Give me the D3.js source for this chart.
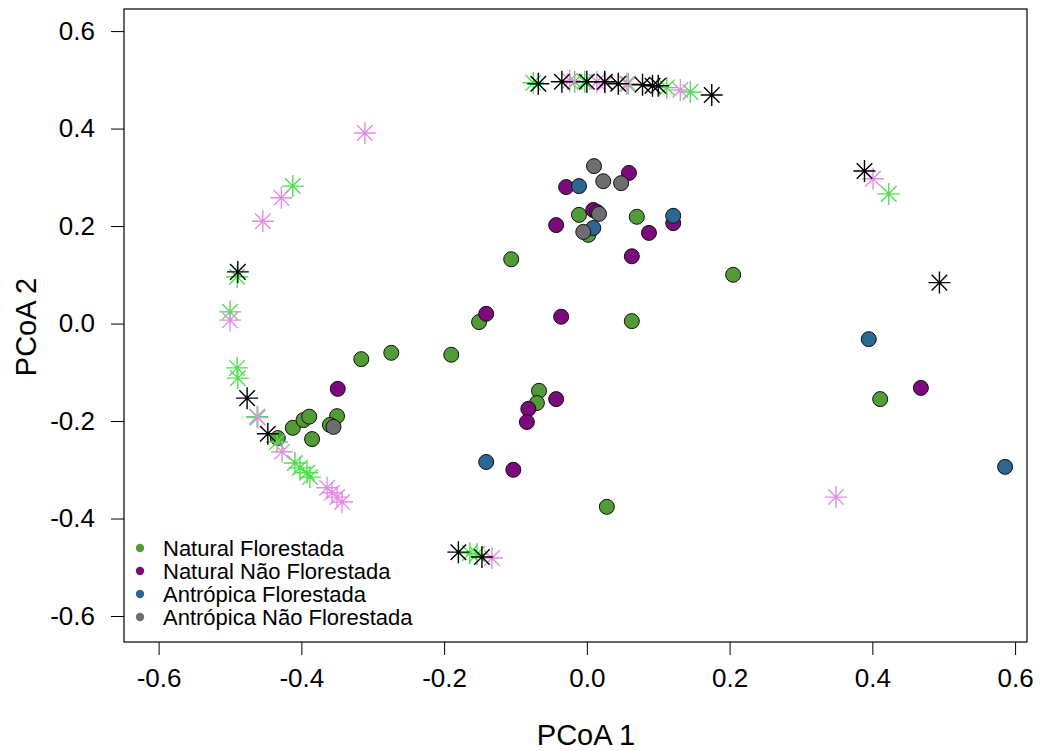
<!DOCTYPE html>
<html>
<head>
<meta charset="utf-8">
<script src="https://cdn.jsdelivr.net/npm/d3@7"></script>
<style>
  body { margin: 0; background: #fff; }
  text { font-family: "Liberation Sans", Arial, sans-serif; fill: #000; }
</style>
</head>
<body>
<svg id="pcoa" width="1044" height="751"></svg>
<script>
// site scores (PCoA 1, PCoA 2) per group
var naturalFlorestada = [
  [-0.316,-0.073], [-0.274,-0.060], [-0.190,-0.064], [-0.433,-0.235], [-0.412,-0.214],
  [-0.397,-0.198], [-0.389,-0.191], [-0.385,-0.237], [-0.350,-0.190], [-0.360,-0.208],
  [-0.106,0.132], [-0.151,0.003], [0.063,0.005], [-0.067,-0.138], [-0.070,-0.163],
  [0.028,-0.376], [-0.011,0.223], [0.070,0.219], [0.002,0.182], [0.205,0.100], [0.411,-0.155]
];
var naturalNaoFlorestada = [
  [-0.349,-0.134], [-0.141,0.020], [-0.036,0.014], [-0.043,-0.155], [-0.082,-0.175],
  [-0.084,-0.202], [-0.103,-0.300], [0.059,0.309], [-0.029,0.280], [0.009,0.233],
  [0.014,0.229], [0.121,0.206], [-0.043,0.202], [0.087,0.186], [0.063,0.138], [0.468,-0.132]
];
var antropicaFlorestada = [
  [-0.141,-0.284], [-0.011,0.282], [0.121,0.221], [0.009,0.196], [0.395,-0.032], [0.586,-0.294]
];
var antropicaNaoFlorestada = [
  [-0.355,-0.212], [0.010,0.323], [0.023,0.292], [0.048,0.288], [0.017,0.225], [-0.005,0.188]
];

// species scores (asterisks)
var starsGreen = [
  [-0.075,0.494], [-0.017,0.496], [-0.003,0.496], [0.058,0.492], [0.112,0.484], [0.145,0.475],
  [-0.412,0.282], [-0.490,0.096], [-0.500,0.024], [-0.490,-0.091], [-0.489,-0.112],
  [-0.462,-0.191], [-0.434,-0.243], [-0.409,-0.286], [-0.402,-0.296], [-0.392,-0.306],
  [-0.388,-0.315], [0.423,0.266], [-0.164,-0.471], [-0.154,-0.473]
];
var starsViolet = [
  [-0.024,0.498], [0.014,0.496], [0.026,0.494], [0.056,0.492], [0.131,0.479],
  [-0.311,0.391], [-0.428,0.258], [-0.454,0.210], [-0.500,0.007], [-0.461,-0.193],
  [-0.427,-0.263], [-0.364,-0.337], [-0.357,-0.347], [-0.350,-0.356], [-0.343,-0.366],
  [0.401,0.297], [0.349,-0.356], [-0.133,-0.481]
];
var starsBlack = [
  [-0.068,0.492], [-0.035,0.496], [0.000,0.496], [0.025,0.496], [0.044,0.492],
  [0.078,0.490], [0.092,0.488], [0.100,0.488], [0.175,0.469],
  [-0.489,0.106], [-0.476,-0.153], [-0.447,-0.226],
  [0.389,0.313], [0.494,0.084], [-0.180,-0.469], [-0.147,-0.479]
];

var groupNames = ["Natural Florestada", "Natural Não Florestada", "Antrópica Florestada", "Antrópica Não Florestada"];
var groupColors = ["#519c36", "#7d0a7d", "#2b6791", "#6e6e6e"];
var tickValues = [-0.6, -0.4, -0.2, 0.0, 0.2, 0.4, 0.6];

var svg = d3.select("#pcoa");

var plotLeft = 124, plotRight = 1027, plotTop = 9, plotBottom = 642;

var x = d3.scaleLinear().domain([-0.6485, 0.6167]).range([plotLeft, plotRight]);
var y = d3.scaleLinear().domain([-0.6533, 0.6453]).range([plotBottom, plotTop]);

// R-style labels with a plain hyphen
var fmt = function(d) { return d3.format(".1f")(d).replace("\u2212", "-"); };

// axes
var xAxis = svg.append("g")
    .attr("transform", "translate(0," + plotBottom + ")")
    .call(d3.axisBottom(x).tickValues(tickValues).tickFormat(fmt).tickSize(13).tickPadding(14));
var yAxis = svg.append("g")
    .attr("transform", "translate(" + plotLeft + ",0)")
    .call(d3.axisLeft(y).tickValues(tickValues).tickFormat(fmt).tickSize(13).tickPadding(16));

[xAxis, yAxis].forEach(function(a) {
    a.select(".domain").remove();
    a.selectAll("line").attr("stroke", "#000").attr("stroke-width", 1);
    a.selectAll("text").style("font-size", "26px").attr("fill", "#000")
        .style("font-family", "'Liberation Sans', Arial, sans-serif");
});

// frame
svg.append("rect")
    .attr("x", plotLeft).attr("y", plotTop)
    .attr("width", plotRight - plotLeft).attr("height", plotBottom - plotTop)
    .attr("fill", "none").attr("stroke", "#000").attr("stroke-width", 1.2);

// titles
svg.append("text")
    .attr("x", 586).attr("y", 745)
    .attr("text-anchor", "middle")
    .style("font-size", "29px")
    .text("PCoA 1");
svg.append("text")
    .attr("transform", "translate(36,327) rotate(-90)")
    .attr("text-anchor", "middle")
    .style("font-size", "29px")
    .text("PCoA 2");

var plot = svg.append("g");

// circles
[naturalFlorestada, naturalNaoFlorestada, antropicaFlorestada, antropicaNaoFlorestada].forEach(function(pts, i) {
    plot.selectAll(null)
        .data(pts)
        .enter().append("circle")
        .attr("cx", function(d) { return x(d[0]); })
        .attr("cy", function(d) { return y(d[1]); })
        .attr("r", 7.5)
        .attr("fill", groupColors[i])
        .attr("stroke", "#111")
        .attr("stroke-width", 1);
});

// asterisks (pch 8)
var s = 11, c = s * Math.SQRT1_2;
var starPath = "M" + (-s) + ",0L" + s + ",0M0," + (-s) + "L0," + s +
    "M" + (-c) + "," + (-c) + "L" + c + "," + c + "M" + (-c) + "," + c + "L" + c + "," + (-c);

[[starsGreen, "#4fe04f"], [starsViolet, "#e28ee2"], [starsBlack, "#000"]].forEach(function(p) {
    plot.selectAll(null)
        .data(p[0])
        .enter().append("path")
        .attr("transform", function(d) { return "translate(" + x(d[0]) + "," + y(d[1]) + ")"; })
        .attr("d", starPath)
        .attr("fill", "none")
        .attr("stroke", p[1])
        .attr("stroke-width", 1.4);
});

// legend
var legend = svg.append("g");
groupNames.forEach(function(name, i) {
    var ly = 548 + i * 23;
    legend.append("circle")
        .attr("cx", 140).attr("cy", ly)
        .attr("r", 4.2)
        .attr("fill", groupColors[i]);
    legend.append("text")
        .attr("x", 163).attr("y", ly)
        .attr("dy", "0.35em")
        .style("font-size", "22px")
        .attr("fill", "#222")
        .text(name);
});
</script>
</body>
</html>
